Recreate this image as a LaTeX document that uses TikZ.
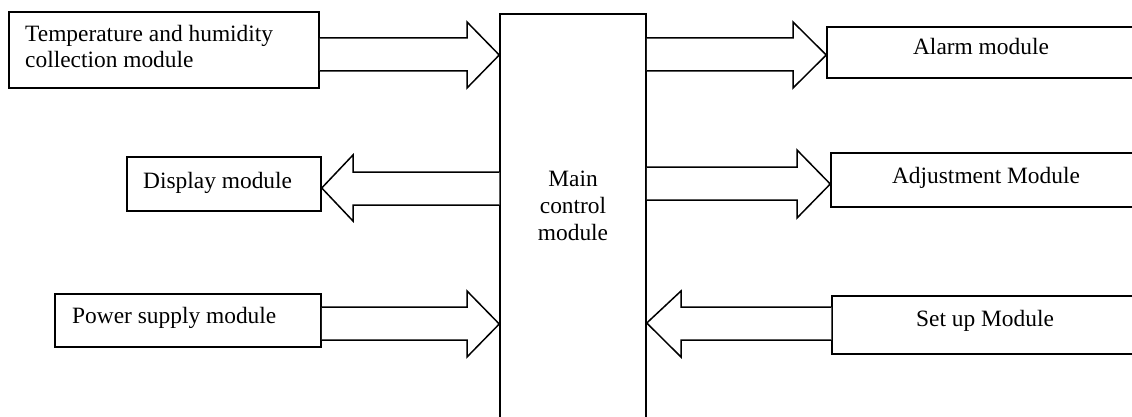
\documentclass[tikz,border=0pt]{standalone}
\usepackage{fontspec}
\setmainfont{Liberation Serif}
\begin{document}
\begin{tikzpicture}[x=1pt,y=-1pt,
  box/.style={draw, line width=1.5pt, rectangle, inner sep=0pt},
  lbl/.style={inner sep=0pt, font=\fontsize{23.4}{27}\selectfont},
  blockarrow/.style={draw, line width=1.5pt, fill=white, line join=miter}]
\useasboundingbox (0,0) rectangle (1132,417);
\clip (0,0) rectangle (1132,417);
% boxes
\node[box, minimum width=310pt, minimum height=76pt] (temp) at (164,50) {};
\node[box, minimum width=194pt, minimum height=54pt] (disp) at (224,184) {};
\node[box, minimum width=266pt, minimum height=53pt] (power) at (188,320.5) {};
\node[box, minimum width=146pt, minimum height=426pt] (main) at (573,227) {};
\node[box, minimum width=313pt, minimum height=51pt] (alarm) at (983.5,52.5) {};
\node[box, minimum width=309pt, minimum height=54pt] (adjust) at (985.5,180) {};
\node[box, minimum width=308pt, minimum height=58pt] (setup) at (986,325) {};
% labels
\node[lbl, anchor=base west] (templ1) at (25,42) {Temperature and humidity};
\node[lbl, anchor=base west] (templ2) at (25,68) {collection module};
\node[lbl, anchor=base west] (displ) at (143,188) {Display module};
\node[lbl, anchor=base west] (powerl) at (72,323) {Power supply module};
\node[lbl, anchor=base] (mainl1) at (573,186) {Main};
\node[lbl, anchor=base] (mainl2) at (573,213) {control};
\node[lbl, anchor=base] (mainl3) at (573,240) {module};
\node[lbl, anchor=base] (alarml) at (981,55) {Alarm module};
\node[lbl, anchor=base] (adjustl) at (986,183) {Adjustment Module};
\node[lbl, anchor=base] (setupl) at (985,326) {Set up Module};
% block arrows
\draw[blockarrow] (temp.east |- 0,38) -- (467,38) -- (467,22) -- (main.west |- 0,55)
  -- (467,88) -- (467,71) -- (temp.east |- 0,71);
\draw[blockarrow] (main.east |- 0,38) -- (793,38) -- (793,22) -- (alarm.west |- 0,55)
  -- (793,88) -- (793,71) -- (main.east |- 0,71);
\draw[blockarrow] (main.east |- 0,167) -- (797,167) -- (797,150) -- (adjust.west |- 0,184)
  -- (797,218) -- (797,200) -- (main.east |- 0,200);
\draw[blockarrow] (main.west |- 0,172) -- (353,172) -- (353,155) -- (disp.east |- 0,188)
  -- (353,221) -- (353,205) -- (main.west |- 0,205);
\draw[blockarrow] (power.east |- 0,307) -- (467,307) -- (467,291) -- (main.west |- 0,324)
  -- (467,357) -- (467,340) -- (power.east |- 0,340);
\draw[blockarrow] (setup.west |- 0,307) -- (681,307) -- (681,291) -- (main.east |- 0,323)
  -- (681,357) -- (681,340) -- (setup.west |- 0,340);
\end{tikzpicture}
\end{document}
